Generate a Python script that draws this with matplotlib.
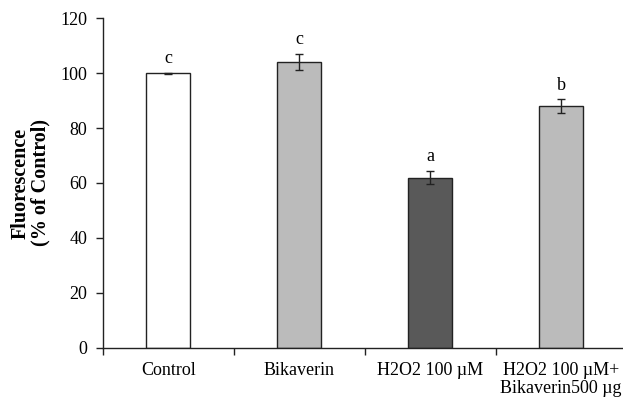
import numpy as np
import matplotlib.pyplot as plt

plt.rcParams['font.family'] = ['Liberation Serif', 'DejaVu Serif']

# data
categories = ['Control', 'Bikaverin', 'H2O2 100 \u00b5M', 'H2O2 100 \u00b5M+\nBikaverin500 \u00b5g']
values = [100, 104, 62, 88]
errors = [0.2, 3.0, 2.5, 2.5]
letters = ['c', 'c', 'a', 'b']
colors = ['white', '#bbbbbb', '#595959', '#bbbbbb']

fig = plt.figure(figsize=(6.23, 3.98), dpi=100)
ax = fig.add_axes([102.7/623, 1-347.7/398, (626.5-102.7)/623, (347.7-18.3)/398])

x = np.arange(len(categories))
ax.bar(x, values, width=0.333, color=colors, edgecolor='#222222', linewidth=1.0, zorder=2)
ax.errorbar(x, values, yerr=errors, fmt='none', ecolor='#222222', elinewidth=1.0,
            capsize=3, capthick=1.0, zorder=3)
for xi, v, e, l in zip(x, values, errors, letters):
    ax.annotate(l, (xi, v+e), xytext=(0, 4), textcoords='offset points',
                ha='center', va='bottom', fontsize=13)

ax.set_xlim(-0.5, len(categories)-0.5)
ax.set_ylim(0, 120)
ax.set_yticks(np.arange(0, 121, 20))
ax.set_xticks(x)
ax.set_xticklabels(categories, fontsize=13, linespacing=1.1)
ax.set_xticks(np.arange(-0.5, len(categories), 1), minor=True)
ax.tick_params(axis='x', which='major', length=0, pad=10)
ax.tick_params(axis='x', which='minor', length=5, width=1, color='#222222')
ax.tick_params(axis='y', labelsize=13, length=5, width=1, color='#222222', pad=6)
for s in ['top', 'right']:
    ax.spines[s].set_visible(False)
for s in ['left', 'bottom']:
    ax.spines[s].set_color('#222222')
    ax.spines[s].set_linewidth(1.0)

ax.set_ylabel('Fluorescence\n(% of Control)', fontsize=14.5, fontweight='bold', linespacing=1.0)
ax.yaxis.set_label_coords(-0.10, 0.5)

plt.savefig('out.png', dpi=100)
